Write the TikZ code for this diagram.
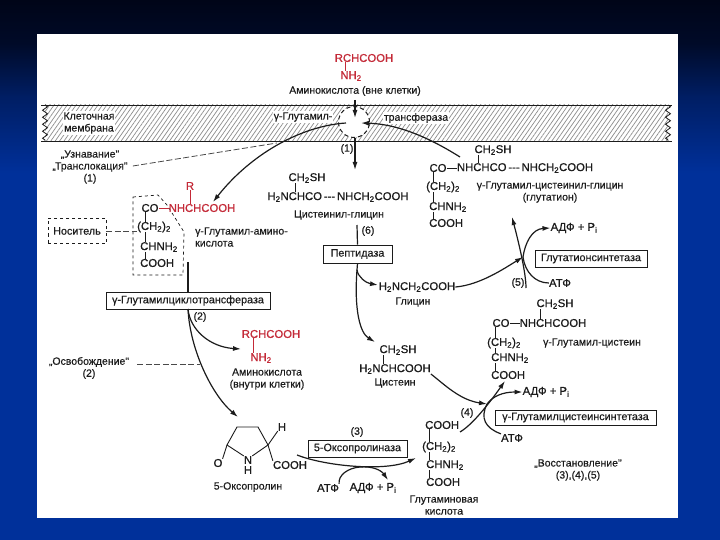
\documentclass[tikz,border=0pt]{standalone}
\usepackage{fontspec}
\setmainfont{Liberation Sans}
\newfontfamily\chemfont[FakeBold=0.8]{Liberation Sans}
\newfontfamily\labfont[FakeBold=0.3]{Liberation Sans}
\usetikzlibrary{arrows.meta,positioning,calc,patterns.meta,decorations.pathmorphing}
\definecolor{ink}{HTML}{1C1C1C}
\definecolor{acid}{HTML}{C42A38}
\definecolor{slide}{HTML}{00309A}
\definecolor{slidemid}{HTML}{001E64}
\definecolor{slidetop}{HTML}{000A28}
\definecolor{slideedge}{HTML}{000518}
\pgfdeclareverticalshading{slideshade}{100bp}{color(0bp)=(slide); color(59bp)=(slide); color(66bp)=(slidemid); color(71bp)=(slidetop); color(75bp)=(slideedge); color(100bp)=(slideedge)}
\newcommand{\low}[1]{\textsubscript{#1}}
\begin{document}
\begin{tikzpicture}[x=1pt,y=-1pt,>={Latex[length=8pt,width=5pt]},text=ink,
 chem/.style={inner sep=0pt,font=\fontsize{11.3}{13}\chemfont},
 redchem/.style={chem,text=acid},
 lab/.style={inner sep=0pt,font=\fontsize{10.5}{12}\labfont,align=center},
 enzyme/.style={draw=ink,fill=white,line width=0.8pt,inner sep=0pt,font=\fontsize{10.8}{12}\labfont},
 carrier/.style={draw=ink,dashed,line width=0.7pt},
 flow/.style={->,line width=1.2pt,draw=ink},
 plain/.style={line width=1.2pt,draw=ink},
 bond/.style={line width=0.6pt,draw=ink},
 redbond/.style={line width=0.6pt,draw=acid},
 hint/.style={line width=0.8pt,draw=ink!80,dash pattern=on 6pt off 2.5pt}]
\useasboundingbox (0,0) rectangle (720,540);
% slide background
\shade[shading=slideshade] (0,0) rectangle (720,540);
\fill[white] (37,34) rectangle (678,518);
% membrane
\fill[pattern={Lines[angle=55,distance=3.6pt,line width=0.7pt]},pattern color=ink!50] (45,105) rectangle (668,141);
\draw[line width=0.8pt,draw=ink] (41,105)--(672,105) (41,141)--(672,141);
\draw[line width=0.8pt,draw=ink,decorate,decoration={zigzag,segment length=7pt,amplitude=2.5pt}] (45,105)--(45,141);
\draw[line width=0.8pt,draw=ink,decorate,decoration={zigzag,segment length=7pt,amplitude=2.5pt}] (668,105)--(668,141);
\node[lab,fill=white,inner sep=1pt] (membrane) at (89,123) {Клеточная\\мембрана};
\node[lab,fill=white,inner sep=1pt] (gammaleft) at (303,117) {γ-Глутамил-};
\node[lab,fill=white,inner sep=1pt] (gammaright) at (416,118) {трансфераза};
\node[draw=ink,dash pattern=on 4pt off 3pt,line width=1pt,fill=white,circle,minimum size=31pt,inner sep=0pt] (pore) at (354,122) {};
% amino acid outside
\node[redchem] (outacid) at (364,58) {RCHCOOH};
\node[redchem] (outamine) at (351,76) {NH\low{2}};
\node[lab] (outname) at (355,91) {Аминокислота (вне клетки)};
\coordinate (outx) at (345,0);
\draw[redbond] (outacid.south -| outx)--(outamine.north -| outx);
% glutathione
\node[chem] (gshtop) at (493,150) {CH\low{2}SH};
\node[chem] (gshco) at (438,168) {CO};
\node[chem] (gshmain) at (525,168) {NHCHCO\,---\,NHCH\low{2}COOH};
\node[chem,anchor=west] (gshb) at (426,187) {(CH\low{2})\low{2}};
\node[chem,anchor=west] (gshc) at (429,207) {CHNH\low{2}};
\node[chem,anchor=west] (gshd) at (429,223) {COOH};
\node[lab] (gshname) at (550,192) {γ-Глутамил-цистеинил-глицин\\(глутатион)};
\coordinate (gshx) at (433,0);
\coordinate (gshy) at (478,0);
\foreach \a/\b in {gshco/gshb,gshb/gshc,gshc/gshd} \draw[bond] (\a.south -| gshx)--(\b.north -| gshx);
\draw[bond] (gshtop.south -| gshy)--(gshmain.north -| gshy);
\draw[bond] (gshco.east)--(gshmain.west);
% cysteinyl-glycine
\node[chem] (cgtop) at (307,178) {CH\low{2}SH};
\node[chem] (cgmain) at (338,197) {H\low{2}NCHCO\,---\,NHCH\low{2}COOH};
\node[lab] (cgname) at (339,215) {Цистеинил-глицин};
\coordinate (cgx) at (295,0);
\draw[bond] (cgtop.south -| cgx)--(cgmain.north -| cgx);
\node[enzyme,minimum width=69pt,minimum height=18pt] (peptidase) at (357.5,254) {Пептидаза};
\node[lab] (six) at (368,231) {(6)};
% carrier
\draw[carrier] (133,197)--(158,195)--(167,205)--(184,232)--(183,275)--(133,275)--cycle;
\node[enzyme,dashed,minimum width=58pt,minimum height=25pt] (carrierbox) at (77,231) {Носитель};
\node[chem] (ggco) at (150,208) {CO};
\node[redchem] (ggacid) at (202,208) {NHCHCOOH};
\node[redchem] (ggr) at (190,186) {R};
\node[chem,anchor=west] (ggb) at (137,227) {(CH\low{2})\low{2}};
\node[chem,anchor=west] (ggc) at (140,247) {CHNH\low{2}};
\node[chem,anchor=west] (ggd) at (140,263) {COOH};
\node[lab,align=left,anchor=west] (ggname) at (195,237) {γ-Глутамил-амино-\\кислота};
\coordinate (ggx) at (145,0);
\foreach \a/\b in {ggco/ggb,ggb/ggc,ggc/ggd} \draw[bond] (\a.south -| ggx)--(\b.north -| ggx);
\draw[redbond] (ggr)--(ggacid.north -| ggr);
\draw[redbond] (ggco)--(ggacid);
\draw[hint] (carrierbox.east)--(carrierbox.east -| ggb.west);
\node[enzyme,minimum width=164pt,minimum height=17pt] (cyclo) at (188,300.5) {γ-Глутамилциклотрансфераза};
\node[lab] (two) at (200,317) {(2)};
% amino acid inside
\node[redchem] (inacid) at (271,334) {RCHCOOH};
\node[redchem] (inamine) at (261,358) {NH\low{2}};
\node[lab] (inname) at (267,379) {Аминокислота\\(внутри клетки)};
\coordinate (inbond) at (253,0);
\draw[redbond] (inacid.south -| inbond)--(inamine.north -| inbond);
% notes
\node[lab] (recog) at (90,167) {„Узнавание"\\„Транслокация"\\(1)};
\node[lab] (release) at (89,368) {„Освобождение"\\(2)};
\node[lab] (restore) at (578,470) {„Восстановление"\\(3),(4),(5)};
\node[lab] (one) at (347,149) {(1)};
% oxoproline
\node[chem] (oxoO) at (218,463) {O};
\node[chem,align=center] (oxoN) at (248,465) {N\\[-3pt]H};
\node[chem] (oxoH) at (282,427) {H};
\node[chem] (oxoC) at (290,465) {COOH};
\node[lab] (oxoname) at (248,487) {5-Оксопролин};
\coordinate (ra) at (227,445);
\coordinate (rb) at (237,427);
\coordinate (rc) at (258,427);
\coordinate (rd) at (268,445);
\draw[bond,line width=0.9pt] (oxoN.north west)--(ra)--(rb)--(rc)--(rd)--(oxoN.north east);
\draw[bond,line width=0.9pt] (ra)--(oxoO.north east);
\draw[bond,line width=0.9pt] (rd)--(oxoH.south west);
\draw[bond,line width=0.9pt] (rd)--(oxoC.north west);
\node[enzyme,minimum width=99pt,minimum height=17pt] (oxoenzyme) at (357.5,448.5) {5-Оксопролиназа};
\node[lab] (three) at (357,432) {(3)};
\node[chem] (atpa) at (328,488) {АТФ};
\node[chem] (adpa) at (373,488) {АДФ + P\low{i}};
% glutamic acid
\node[chem,anchor=west] (glua) at (425,425) {COOH};
\node[chem,anchor=west] (glub) at (422,447) {(CH\low{2})\low{2}};
\node[chem,anchor=west] (gluc) at (426,465) {CHNH\low{2}};
\node[chem,anchor=west] (glud) at (426,482) {COOH};
\node[lab] (gluname) at (444,505) {Глутаминовая\\кислота};
\coordinate (glux) at (429,0);
\foreach \a/\b in {glua/glub,glub/gluc,gluc/glud} \draw[bond] (\a.south -| glux)--(\b.north -| glux);
\node[lab] (four) at (467,413) {(4)};
% glycine, cysteine
\node[chem] (gly) at (417,287) {H\low{2}NCH\low{2}COOH};
\node[lab] (glyname) at (413,302) {Глицин};
\node[chem] (cystop) at (398,350) {CH\low{2}SH};
\node[chem] (cysmain) at (395,369) {H\low{2}NCHCOOH};
\node[lab] (cysname) at (395,383) {Цистеин};
\coordinate (cysx) at (383,0);
\draw[bond] (cystop.south -| cysx)--(cysmain.north -| cysx);
% gamma-glutamylcysteine
\node[chem] (gctop) at (555,304) {CH\low{2}SH};
\node[chem] (gcco) at (501,323) {CO};
\node[chem] (gcmain) at (553,323) {NHCHCOOH};
\node[chem,anchor=west] (gcb) at (487,343) {(CH\low{2})\low{2}};
\node[chem,anchor=west] (gcc) at (491,358) {CHNH\low{2}};
\node[chem,anchor=west] (gcd) at (491,375) {COOH};
\node[lab] (gcname) at (592,343) {γ-Глутамил-цистеин};
\coordinate (gcx) at (495,0);
\coordinate (gcy) at (540,0);
\foreach \a/\b in {gcco/gcb,gcb/gcc,gcc/gcd} \draw[bond] (\a.south -| gcx)--(\b.north -| gcx);
\draw[bond] (gctop.south -| gcy)--(gcmain.north -| gcy);
\draw[bond] (gcco.east)--(gcmain.west);
% synthetases
\node[enzyme,minimum width=112pt,minimum height=17pt] (gshsyn) at (591,258.5) {Глутатионсинтетаза};
\node[chem] (adpb) at (574,228) {АДФ + P\low{i}};
\node[chem] (atpb) at (560,283) {АТФ};
\node[lab] (five) at (518,283) {(5)};
\node[enzyme,minimum width=161pt,minimum height=15pt] (gcsyn) at (575.5,417.5) {γ-Глутамилцистеинсинтетаза};
\node[chem] (adpc) at (546,392) {АДФ + P\low{i}};
\node[chem] (atpc) at (512,438) {АТФ};
% junctions
\coordinate (inpoint) at (355,100);
\coordinate (inend) at (355,118);
\coordinate (transout) at (355,170);
\coordinate (gshend) at (460,157);
\coordinate (gshin) at (361,123);
\coordinate (leftend) at (346,123);
\coordinate (ggin) at (213,202);
\coordinate (jfive) at (523,257);
\coordinate (jthree) at (360,467);
\coordinate (jfour) at (487,404);
\coordinate (fivetop) at (512,217);
\coordinate (fivebottom) at (526,288);
\coordinate (fourbottom) at (460,432);
\coordinate (fourtop) at (505,381);
\coordinate (peptsplit) at (357,270);
\coordinate (cgsplit) at (357,225);
\coordinate (glyin) at (378,285);
\coordinate (cysin) at (375,342);
\coordinate (ccin) at (188,262);
\coordinate (ccout) at (188,309);
\coordinate (oxoin) at (238,417);
\coordinate (aain) at (241,349);
\coordinate (threestart) at (297,455);
\coordinate (threeend) at (416,458);
\coordinate (adpain) at (388,480);
% transport arrows
\draw[flow] (inpoint)--(inend);
\draw[flow] (pore.south -| inpoint)--(transout);
\draw[flow] (gshend) .. controls (425,135) and (395,124) .. (gshin);
\draw[flow] (leftend) .. controls (300,126) and (250,155) .. (ggin);
\draw[hint] ($(recog.east |- 0,166)+(5,0)$)--(277,143);
% gamma-glutamyl cycle
\draw[plain] (ccin)--(cyclo.north -| ccin);
\draw[flow] (ccout) .. controls (190,330) and (210,347) .. (aain);
\draw[flow] (ccout) .. controls (190,350) and (212,395) .. (oxoin);
\draw[hint] ($(release.east |- 0,364)+(8,0)$)--(200,364);
\draw[flow] (threestart) .. controls (325,466) and (385,472) .. (threeend);
\draw[plain] (atpa.north east) .. controls (338,475) and (348,468) .. (jthree);
\draw[flow] (jthree) .. controls (372,466) and (381,470) .. (adpain);
\draw[flow] (fourbottom) .. controls (472,425) and (488,405) .. (fourtop);
\draw[flow] (cysmain.south east) .. controls (445,385) and (460,400) .. (jfour);
\draw[flow] (jfour) .. controls (493,396) and (503,392) .. (adpc.west);
\draw[plain] (jfour) .. controls (480,418) and (485,428) .. (atpc.north west);
% peptidase and synthetase
\draw[plain] (cgsplit)--(peptidase.north);
\draw[plain] (peptidase.south)--(peptsplit);
\draw[flow] (peptsplit) .. controls (358,277) and (366,283) .. (glyin);
\draw[flow] (peptsplit) .. controls (354,310) and (360,333) .. (cysin);
\draw[flow] (gly.east) .. controls (480,285) and (505,268) .. (jfive);
\draw[flow] (fivebottom) .. controls (526,272) and (518,240) .. (fivetop);
\draw[flow] (jfive) .. controls (525,243) and (532,229) .. (adpb.west);
\draw[plain] (jfive) .. controls (525,272) and (535,283) .. (atpb.west);
\end{tikzpicture}
\end{document}
